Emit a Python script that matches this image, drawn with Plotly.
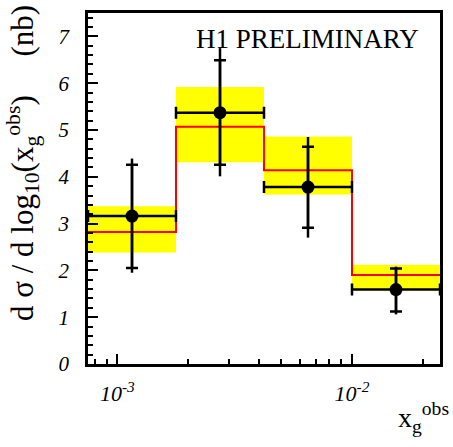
import numpy as np
import plotly.graph_objects as go

# bin edges in log10(x_g^obs)
log_edges = [-3.125, -2.75, -2.375, -2.0, -1.625]
# data points
data_y = [3.16, 5.37, 3.78, 1.59]
stat_up = [1.10, 1.12, 0.86, 0.45]
stat_dn = [1.11, 1.11, 0.87, 0.47]
tot_up = [1.23, 1.38, 1.07, 0.49]
tot_dn = [1.21, 1.36, 1.08, 0.53]
# model prediction (red line) and its uncertainty band (yellow)
model_y = [2.82, 5.07, 4.14, 1.90]
band_lo = [2.38, 4.31, 3.62, 1.60]
band_hi = [3.37, 5.92, 4.86, 2.12]

x_tickvals = [1e-3, 1e-2]
x_ticktext = ["<i>10</i><sup><i>-3</i></sup>", "<i>10</i><sup><i>-2</i></sup>"]
y_tickvals = [0, 1, 2, 3, 4, 5, 6, 7]
y_ticktext = ["<i>%d</i>" % v for v in y_tickvals]

edges = [10 ** e for e in log_edges]
centers = [10 ** ((log_edges[i] + log_edges[i + 1]) / 2) for i in range(4)]
ex_plus = [edges[i + 1] - centers[i] for i in range(4)]
ex_minus = [centers[i] - edges[i] for i in range(4)]

FONT = "Liberation Serif"

fig = go.Figure()

# yellow band
bx, by = [], []
for i in range(4):
    bx += [edges[i], edges[i + 1], edges[i + 1], edges[i], edges[i], None]
    by += [band_lo[i], band_lo[i], band_hi[i], band_hi[i], band_lo[i], None]
fig.add_trace(go.Scatter(x=bx, y=by, fill="toself", fillcolor="#ffff00",
                         mode="none", showlegend=False, hoverinfo="skip"))

# red step line
fig.add_trace(go.Scatter(x=edges, y=model_y + [model_y[-1]], mode="lines",
                         line=dict(color="#ff0000", width=2, shape="hv"),
                         showlegend=False))

# inner (stat) error bars with ticks
fig.add_trace(go.Scatter(x=centers, y=data_y, mode="markers",
                         marker=dict(size=1, color="black", opacity=0),
                         error_y=dict(type="data", symmetric=False, array=stat_up,
                                      arrayminus=stat_dn, color="black",
                                      thickness=2.5, width=6),
                         showlegend=False))

# total error bars, x bin widths, and markers
fig.add_trace(go.Scatter(x=centers, y=data_y, mode="markers",
                         marker=dict(size=13, color="black"),
                         error_y=dict(type="data", symmetric=False, array=tot_up,
                                      arrayminus=tot_dn, color="black",
                                      thickness=2.5, width=0),
                         error_x=dict(type="data", symmetric=False, array=ex_plus,
                                      arrayminus=ex_minus, color="black",
                                      thickness=2.5, width=6),
                         showlegend=False))

fig.update_layout(
    width=453, height=447,
    margin=dict(l=88, r=10, t=10, b=83),
    paper_bgcolor="white", plot_bgcolor="white",
    font=dict(family=FONT, color="black"),
    xaxis=dict(type="log", range=[log_edges[0], log_edges[-1]],
               tickmode="array", tickvals=x_tickvals, ticktext=x_ticktext,
               ticks="inside", ticklen=10, tickwidth=1.5, tickcolor="black",
               minor=dict(ticks="inside", ticklen=5, tickwidth=1.5, tickcolor="black", dtick="D1"),
               showline=True, linewidth=2.5, linecolor="black", mirror=True,
               showgrid=False, zeroline=False, ticklabelstandoff=8,
               tickfont=dict(family=FONT, size=22)),
    yaxis=dict(range=[0, 7.5], tickmode="array", tickvals=y_tickvals, ticktext=y_ticktext,
               ticks="inside", ticklen=10, tickwidth=1.5, tickcolor="black",
               minor=dict(ticks="inside", ticklen=5, tickwidth=1.5, tickcolor="black",
                          tickmode="linear", tick0=0, dtick=0.2),
               showline=True, linewidth=2.5, linecolor="black", mirror=True,
               showgrid=False, zeroline=False, ticklabelstandoff=12,
               tickfont=dict(family=FONT, size=21)),
    annotations=[
        dict(text="H1 PRELIMINARY", xref="paper", yref="paper", x=0.3, y=0.925,
             xanchor="left", yanchor="middle", showarrow=False,
             font=dict(family=FONT, size=27)),
        dict(text="d σ / d log<sub>10</sub>(x<sub>g</sub><sup>obs</sup>)\u00a0\u00a0\u00a0\u00a0\u00a0(nb)",
             xref="paper", yref="paper", x=-0.185, y=1.028, xanchor="center", yanchor="top",
             textangle=-90, showarrow=False, font=dict(family=FONT, size=31)),
        dict(text="x<sub>g</sub><sup>obs</sup>", xref="paper", yref="paper",
             x=1.03, y=-0.09, xanchor="right", yanchor="top", showarrow=False,
             font=dict(family=FONT, size=28)),
    ],
)

fig.write_html("out.html")
